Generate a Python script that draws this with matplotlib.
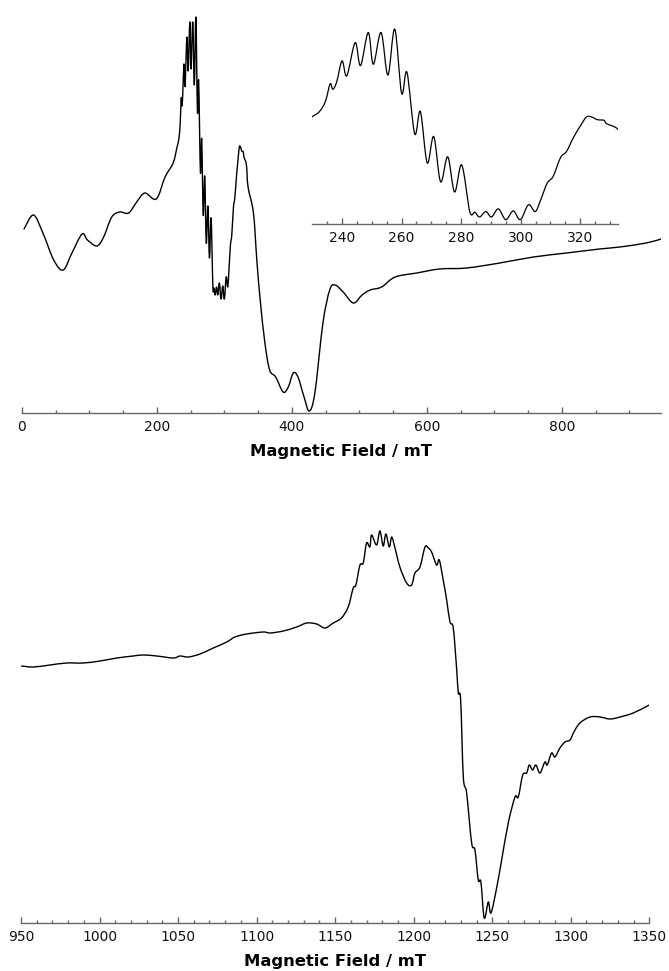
#Espectro EPR en dos tramos de campo, con un recuadro ampliado

import numpy as np
import matplotlib.pyplot as plt
from matplotlib.path import Path
from matplotlib.patches import PathPatch

plt.rcParams['font.family'] = ['DejaVu Sans']

# Tramo 1: 0 - 950 mT (unidades arbitrarias)
campo_1 = [3, 17, 31, 47, 61, 74, 89, 97, 111, 121, 133, 145, 158, 170, 182, 199, 212, 224,
           229.8, 232.4, 234.4, 236.0, 236.9, 238.2, 240.0, 241.6, 244.4, 246.2, 248.8, 250.5,
           253.1, 255.4, 257.7, 260.0, 261.8, 264.4, 266.3, 268.6, 270.8, 273.1, 275.5, 277.8,
           280.2, 282.9, 284.6, 286.2, 288.3, 290.2, 292.5, 295.0, 297.5, 299.9, 302.6, 304.9,
           306.7, 308.9, 310.9, 313.4, 315.4, 317.9, 320.1, 322.1, 323.8, 325.8, 328.0, 328.9,
           332.6, 335, 343, 348, 353, 360, 367, 376, 387, 394.6, 402, 409, 418, 425.7, 434, 446,
           456, 464, 476, 491, 504, 516, 533, 553, 585, 619, 659, 708, 758, 807, 856, 886, 925, 947]
senal_1 = [184, 198, 180, 153, 143, 160, 179, 173, 167, 176, 196, 201, 200, 211, 220, 214, 236, 250,
           266, 274, 289, 315, 307, 318, 349, 327, 376, 342, 391, 344,
           391, 328, 396, 301, 332, 241, 274, 198, 237, 170, 207, 155,
           195, 126, 125, 118, 126, 118, 130, 114, 127, 114, 136, 126,
           143, 168, 178, 206, 215, 237, 253, 266, 266, 262, 261, 256,
           248, 226, 200, 153, 113, 70, 43, 36, 21, 26, 40, 36, 16, 2, 20, 90,
           123, 128, 121, 110, 118, 123, 126, 136, 140, 144, 145, 150, 156, 160, 164, 166, 170, 174]

# Tramo 2: 950 - 1350 mT
campo_2 = [950.4, 957.9, 968.5, 979, 989.7, 1000.3, 1011, 1021.5, 1027.9, 1036.4, 1047, 1051.2,
           1056.5, 1064, 1072.4, 1081, 1086.2, 1093.7, 1104.2, 1108.5, 1117, 1125.5, 1131.9,
           1138.2, 1143.5, 1148.8, 1154, 1158.3, 1161.5, 1163.2, 1165.8, 1167.9, 1170, 1172.1,
           1173.2, 1176.4, 1178.5, 1180.6, 1182.3, 1184.5, 1186, 1188.1, 1191.2, 1195.5, 1198.7,
           1200.8, 1204, 1207.2, 1209.3, 1211.4, 1214.6, 1216.3, 1218.8, 1221, 1223.1, 1225.2,
           1227.4, 1228.4, 1229.9, 1231.6, 1233.7, 1236.9, 1239, 1241.1, 1242.8, 1244.9, 1247.5,
           1249.2, 1252.8, 1256, 1260.2, 1264.5, 1266.6, 1269.4, 1271.9, 1273.6, 1275.7, 1277.8,
           1280.4, 1283.5, 1285, 1287.8, 1289.9, 1293.1, 1296.3, 1299.5, 1302, 1305.8, 1312.2,
           1318.6, 1325, 1331.3, 1339.8, 1350]
senal_2 = [257, 256, 258, 260, 260, 262, 265, 267, 268, 267, 265, 267,
           266, 269, 275, 281, 286, 289, 291, 290, 292, 296, 300,
           299, 295, 300, 305, 316, 335, 338, 358, 360, 380, 376,
           388, 378, 392, 377, 389, 376, 386, 375, 356, 340, 338,
           350, 356, 376, 375, 371, 358, 363, 343, 323, 301, 295,
           253, 230, 223, 146, 130, 80, 73, 43, 41, 5, 21,
           10, 35, 63, 100, 126, 126, 148, 150, 158, 153, 158,
           150, 161, 158, 170, 166, 175, 181, 183, 191, 200, 206,
           206, 204, 206, 210, 218]

ticks_1 = [0, 200, 400, 600, 800]
ticks_recuadro = [240, 260, 280, 300, 320]
ticks_2 = [950, 1000, 1050, 1100, 1150, 1200, 1250, 1300, 1350]

gris = '#666666'

fig = plt.figure(figsize=(6.69, 9.71), dpi=100)


def curva_suave(ax, x, y, lw):
    # línea suave que pasa por los puntos leídos (curvas de Bézier tipo Catmull-Rom)
    pts = np.column_stack([x, y]).astype(float)
    ext = np.vstack([pts[0], pts, pts[-1]])
    verts = [pts[0]]
    codes = [Path.MOVETO]
    for i in range(len(pts) - 1):
        p0, p1, p2, p3 = ext[i], ext[i + 1], ext[i + 2], ext[i + 3]
        verts += [p1 + (p2 - p0) / 6, p2 - (p3 - p1) / 6, p2]
        codes += [Path.CURVE4] * 3
    ax.add_patch(PathPatch(Path(verts, codes), fill=False, edgecolor='black',
                           lw=lw, capstyle='round', joinstyle='round'))


def estilo_eje(ax, mayores, menores):
    # solo queda el eje x, con las marcas hacia dentro
    for lado in ['left', 'right', 'top']:
        ax.spines[lado].set_visible(False)
    ax.spines['bottom'].set_color(gris)
    ax.spines['bottom'].set_linewidth(1.0)
    ax.set_yticks([])
    ax.set_xticks(mayores)
    ax.set_xticks(menores, minor=True)
    ax.tick_params(axis='x', which='major', direction='in', length=4, width=1.0,
                   color=gris, labelsize=10, pad=5, labelcolor='#111111')
    ax.tick_params(axis='x', which='minor', direction='in', length=2, width=1.0, color=gris)


# Panel superior
ax1 = fig.add_axes([22 / 669, 1 - 413 / 971, (661 - 22) / 669, 413 / 971])
curva_suave(ax1, campo_1, senal_1, 1.0)
ax1.set_xlim(0, 947)
ax1.set_ylim(0, 413)
estilo_eje(ax1, ticks_1, [t for t in range(50, 947, 50) if t % 200 != 0])
ax1.set_xlabel('Magnetic Field / mT', fontsize=11.8, fontweight='bold', labelpad=7)

# Recuadro con la zona de 230 a 332 mT
ax_in = fig.add_axes([312.3 / 669, 1 - 224 / 971, (617.7 - 312.3) / 669, 214 / 971])
curva_suave(ax_in, campo_1, senal_1, 0.9)
ax_in.set_xlim(230, 332.6)
ax_in.set_ylim(107.6, 424.3)
ax_in.patch.set_alpha(0)
estilo_eje(ax_in, ticks_recuadro, [t for t in range(235, 332, 5) if t % 20 != 0])

# Panel inferior
ax2 = fig.add_axes([21 / 669, 1 - 923 / 971, (649.3 - 21) / 669, 423 / 971])
curva_suave(ax2, campo_2, senal_2, 1.0)
ax2.set_xlim(950, 1350)
ax2.set_ylim(0, 423)
estilo_eje(ax2, ticks_2, [t for t in range(960, 1350, 10) if t % 50 != 0])
ax2.set_xlabel('Magnetic Field / mT', fontsize=11.8, fontweight='bold', labelpad=7)

plt.savefig('out.png', dpi=100)
